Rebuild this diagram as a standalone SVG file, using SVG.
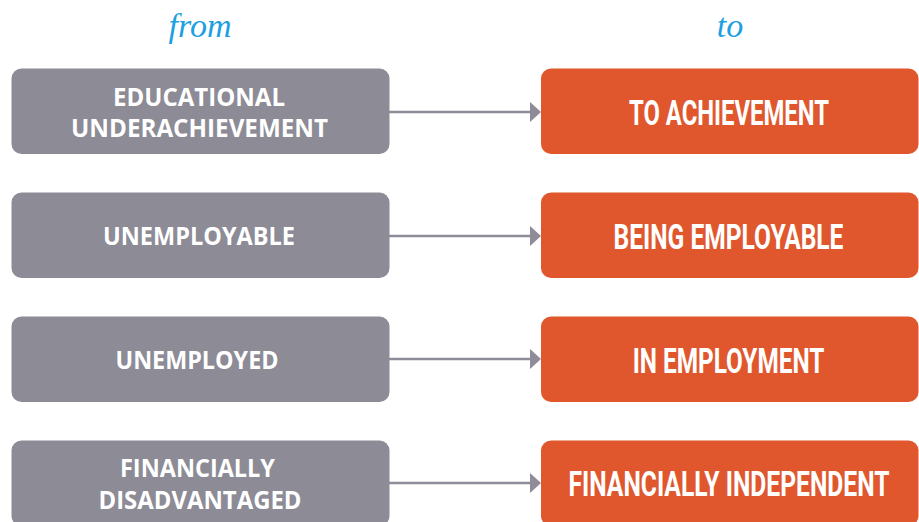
<svg xmlns="http://www.w3.org/2000/svg" width="919" height="522" viewBox="0 0 919 522">
<style>
.from{fill:#8c8b96}
.to{fill:#e0572e}
.lt{font-family:"Open Sans","Liberation Sans",sans-serif;font-weight:bold;font-size:25px;fill:#fff;text-anchor:middle}
.rt{font-family:Roboto,"Liberation Sans",sans-serif;font-weight:bold;font-size:35px;fill:#fff;text-anchor:middle}
.hd{font-family:"Liberation Serif",serif;font-style:italic;font-size:34px;fill:#1ba0e1;text-anchor:middle}
.ln{stroke:#8d8c98;stroke-width:2.5;fill:none}
.ah{fill:#8d8c98}
</style>
<rect width="919" height="522" fill="#fff"/>
<g id="headers">
<text class="hd" x="200" y="37">from</text>
<text class="hd" x="730" y="37">to</text>
</g>
<g id="connectors">
<line class="ln" x1="389" y1="112" x2="531" y2="112"/>
<polygon class="ah" points="530,102 541,112 530,122"/>
<line class="ln" x1="389" y1="236" x2="531" y2="236"/>
<polygon class="ah" points="530,226 541,236 530,246"/>
<line class="ln" x1="389" y1="359" x2="531" y2="359"/>
<polygon class="ah" points="530,349 541,359 530,369"/>
<line class="ln" x1="389" y1="483" x2="531" y2="483"/>
<polygon class="ah" points="530,473 541,483 530,493"/>
</g>
<g id="from1">
<rect class="from" x="11.5" y="68.5" width="378" height="85.5" rx="10"/>
<text class="lt" x="199" y="106" textLength="172" lengthAdjust="spacingAndGlyphs">EDUCATIONAL</text>
<text class="lt" x="199.5" y="137" textLength="257" lengthAdjust="spacingAndGlyphs">UNDERACHIEVEMENT</text>
</g>
<g id="from2">
<rect class="from" x="11.5" y="192.5" width="378" height="85.5" rx="10"/>
<text class="lt" x="199" y="245" textLength="192" lengthAdjust="spacingAndGlyphs">UNEMPLOYABLE</text>
</g>
<g id="from3">
<rect class="from" x="11.5" y="316.5" width="378" height="85.5" rx="10"/>
<text class="lt" x="197" y="368.5" textLength="163" lengthAdjust="spacingAndGlyphs">UNEMPLOYED</text>
</g>
<g id="from4">
<rect class="from" x="11.5" y="440.5" width="378" height="85.5" rx="10"/>
<text class="lt" x="197.5" y="477" textLength="155" lengthAdjust="spacingAndGlyphs">FINANCIALLY</text>
<text class="lt" x="200" y="508.5" textLength="203" lengthAdjust="spacingAndGlyphs">DISADVANTAGED</text>
</g>
<g id="to1">
<rect class="to" x="541" y="68.5" width="377.5" height="85.5" rx="10"/>
<text class="rt" transform="translate(729,125) scale(0.68,1)" x="0" y="0" textLength="294" lengthAdjust="spacingAndGlyphs">TO ACHIEVEMENT</text>
</g>
<g id="to2">
<rect class="to" x="541" y="192.5" width="377.5" height="85.5" rx="10"/>
<text class="rt" transform="translate(728.5,249) scale(0.68,1)" x="0" y="0" textLength="338" lengthAdjust="spacingAndGlyphs">BEING EMPLOYABLE</text>
</g>
<g id="to3">
<rect class="to" x="541" y="316.5" width="377.5" height="85.5" rx="10"/>
<text class="rt" transform="translate(728.5,372.5) scale(0.68,1)" x="0" y="0" textLength="282" lengthAdjust="spacingAndGlyphs">IN EMPLOYMENT</text>
</g>
<g id="to4">
<rect class="to" x="541" y="440.5" width="377.5" height="85.5" rx="10"/>
<text class="rt" transform="translate(729,496) scale(0.68,1)" x="0" y="0" textLength="472" lengthAdjust="spacingAndGlyphs">FINANCIALLY INDEPENDENT</text>
</g>
</svg>
